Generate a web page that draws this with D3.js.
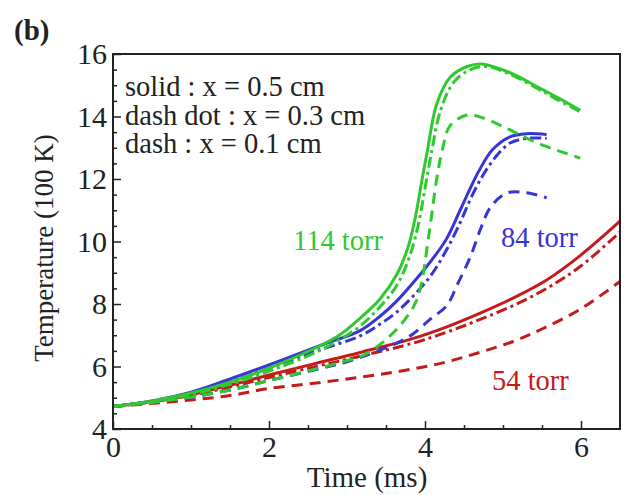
<!DOCTYPE html>
<html>
<head>
  <meta charset="utf-8">
  <script src="https://d3js.org/d3.v7.min.js"></script>
  <style>
    body { margin: 0; background: #fff; }
  </style>
</head>
<body>
  <svg width="624" height="495"></svg>
  <script>
    // [time (ms), temperature (100 K)]
    // 114 torr
    const green05 = [[0,4.72],[0.5,4.9],[1,5.15],[1.5,5.5],[2,5.95],[2.6,6.6],[2.9,7.0],[3.17,7.55],[3.42,8.15],[3.64,8.95],[3.78,9.8],[3.87,10.7],[3.96,11.95],[4.03,12.9],[4.15,14.4],[4.32,15.25],[4.54,15.6],[4.73,15.68],[5.09,15.4],[5.44,14.95],[5.69,14.62],[5.99,14.2]];
    const green03 = [[0,4.72],[0.5,4.88],[1,5.1],[1.5,5.43],[2,5.85],[2.6,6.45],[2.9,6.85],[3.17,7.3],[3.42,7.9],[3.64,8.6],[3.8,9.5],[3.92,10.6],[4.0,11.7],[4.08,12.8],[4.2,14.2],[4.37,15.1],[4.58,15.5],[4.8,15.6],[5.09,15.35],[5.44,14.9],[5.69,14.55],[5.99,14.15]];
    const green01 = [[0,4.72],[0.5,4.85],[1,5.02],[1.5,5.25],[2,5.55],[2.6,5.92],[2.87,6.1],[3.2,6.35],[3.42,6.7],[3.64,7.2],[3.85,7.9],[3.94,8.5],[4.06,10.4],[4.15,12.0],[4.22,12.9],[4.32,13.7],[4.54,14.05],[4.75,13.95],[5.09,13.57],[5.44,13.15],[5.99,12.67]];
    // 84 torr
    const blue05 = [[0,4.72],[0.5,4.9],[1,5.18],[1.5,5.6],[2,6.05],[2.6,6.62],[2.78,6.78],[3.17,7.15],[3.42,7.6],[3.64,8.1],[3.94,8.95],[4.1,9.45],[4.28,10.1],[4.45,11.0],[4.58,11.7],[4.7,12.3],[4.87,12.95],[5.09,13.35],[5.3,13.45],[5.56,13.42]];
    const blue03 = [[0,4.72],[0.5,4.88],[1,5.13],[1.5,5.5],[2,5.95],[2.6,6.5],[2.78,6.64],[3.17,6.98],[3.42,7.35],[3.64,7.75],[3.94,8.5],[4.1,9.0],[4.28,9.75],[4.45,10.6],[4.6,11.45],[4.75,12.15],[4.92,12.75],[5.09,13.15],[5.3,13.3],[5.56,13.3]];
    const blue01 = [[0,4.72],[0.5,4.85],[1,5.02],[1.5,5.25],[2,5.55],[2.6,5.9],[3.0,6.15],[3.4,6.5],[3.64,6.75],[3.85,7.05],[4.06,7.5],[4.28,7.95],[4.41,8.6],[4.58,9.5],[4.72,10.45],[4.84,11.1],[5.05,11.55],[5.3,11.56],[5.56,11.4]];
    // 54 torr
    const red05 = [[0,4.72],[0.5,4.88],[1,5.1],[1.5,5.4],[2,5.73],[2.6,6.1],[3.17,6.45],[3.85,6.9],[4.28,7.27],[4.7,7.7],[5.13,8.19],[5.56,8.77],[5.99,9.55],[6.5,10.65]];
    const red03 = [[0,4.72],[0.5,4.87],[1,5.07],[1.5,5.35],[2,5.65],[2.6,6.0],[3.17,6.33],[3.85,6.75],[4.28,7.1],[4.7,7.5],[5.13,7.95],[5.56,8.5],[5.99,9.2],[6.5,10.3]];
    const red01 = [[0,4.72],[0.5,4.82],[1,4.93],[1.5,5.07],[2,5.3],[2.6,5.47],[3.17,5.66],[3.68,5.85],[4.2,6.1],[4.7,6.45],[5.13,6.8],[5.5,7.2],[6.0,7.85],[6.5,8.72]];

    const xTicks = [0, 2, 4, 6];
    const yTicks = [4, 6, 8, 10, 12, 14, 16];
    const legendLines = ['solid : x = 0.5 cm', 'dash dot : x = 0.3 cm', 'dash : x = 0.1 cm'];

    const green = '#2ec92e', blue = '#3535d8', red = '#c41a1a';
    const solid = null, dashDot = '11,4,3,4', dash = '11,7';
    const font = '"Liberation Serif", "Times New Roman", serif';

    const series = [
      { d: red01, c: red, dash: dash },
      { d: red03, c: red, dash: dashDot },
      { d: red05, c: red, dash: solid },
      { d: blue01, c: blue, dash: dash },
      { d: blue03, c: blue, dash: dashDot },
      { d: blue05, c: blue, dash: solid },
      { d: green01, c: green, dash: dash },
      { d: green03, c: green, dash: dashDot },
      { d: green05, c: green, dash: solid }
    ];

    const margin = { left: 113, top: 54, right: 4, bottom: 66 };
    const svg = d3.select('svg');
    const innerWidth = 624 - margin.left - margin.right;
    const innerHeight = 495 - margin.top - margin.bottom;

    const xScale = d3.scaleLinear().domain([0, 6.5]).range([0, innerWidth]);
    const yScale = d3.scaleLinear().domain([4, 16]).range([innerHeight, 0]);

    const g = svg.append('g')
      .attr('transform', `translate(${margin.left},${margin.top})`);

    // curves
    const line = d3.line()
      .x(d => xScale(d[0]))
      .y(d => yScale(d[1]))
      .curve(d3.curveCatmullRom.alpha(0.5));

    g.selectAll('path.curve').data(series)
      .enter().append('path')
      .attr('class', 'curve')
      .attr('d', s => line(s.d))
      .attr('fill', 'none')
      .attr('stroke', s => s.c)
      .attr('stroke-width', 3)
      .attr('stroke-dasharray', s => s.dash);

    // minor ticks
    const xMinor = d3.range(0.5, 6.5, 0.5).filter(v => v % 2 !== 0);
    const yMinor = d3.range(4.5, 16, 0.5).filter(v => v % 2 !== 0);

    g.append('g')
      .attr('transform', `translate(0,${innerHeight})`)
      .call(d3.axisBottom(xScale).tickValues(xMinor).tickSize(-4).tickFormat(''))
      .call(a => a.select('.domain').remove());
    g.append('g')
      .call(d3.axisLeft(yScale).tickValues(yMinor).tickSize(-4).tickFormat(''))
      .call(a => a.select('.domain').remove());

    // major ticks
    const xAxisG = g.append('g')
      .attr('transform', `translate(0,${innerHeight})`)
      .call(d3.axisBottom(xScale).tickValues(xTicks).tickSize(-8).tickPadding(7).tickFormat(d3.format('d')));
    const yAxisG = g.append('g')
      .call(d3.axisLeft(yScale).tickValues(yTicks).tickSize(-8).tickPadding(6).tickFormat(d3.format('d')));

    [xAxisG, yAxisG].forEach(a => {
      a.select('.domain').remove();
      a.attr('font-size', 30).attr('font-family', font);
      a.selectAll('text').attr('fill', '#222');
    });
    g.selectAll('.tick line').attr('stroke', '#222').attr('stroke-width', 1.5);

    // frame
    g.append('rect')
      .attr('width', innerWidth)
      .attr('height', innerHeight)
      .attr('fill', 'none')
      .attr('stroke', '#222')
      .attr('stroke-width', 2);

    const textG = svg.append('g')
      .attr('font-family', font)
      .attr('fill', '#222');

    // axis titles
    textG.append('text')
      .attr('x', 367)
      .attr('y', 487)
      .attr('text-anchor', 'middle')
      .attr('font-size', 29)
      .text('Time (ms)');

    textG.append('text')
      .attr('transform', 'translate(53,248) rotate(-90)')
      .attr('text-anchor', 'middle')
      .attr('font-size', 27)
      .text('Temperature (100 K)');

    // panel letter
    textG.append('text')
      .attr('x', 14)
      .attr('y', 40)
      .attr('font-size', 29)
      .attr('font-weight', 'bold')
      .text('(b)');

    // legend text
    textG.selectAll('text.legend').data(legendLines)
      .enter().append('text')
      .attr('class', 'legend')
      .attr('x', 125)
      .attr('y', (d, i) => 96 + i * 28.5)
      .attr('font-size', 28.5)
      .text(d => d);

    // pressure labels
    const labels = [
      { t: '114 torr', c: green, x: 293, y: 250 },
      { t: '84 torr', c: blue, x: 501, y: 247 },
      { t: '54 torr', c: red, x: 492, y: 390 }
    ];
    textG.selectAll('text.plabel').data(labels)
      .enter().append('text')
      .attr('class', 'plabel')
      .attr('x', d => d.x)
      .attr('y', d => d.y)
      .attr('font-size', 28.5)
      .attr('fill', d => d.c)
      .text(d => d.t);
  </script>
</body>
</html>
